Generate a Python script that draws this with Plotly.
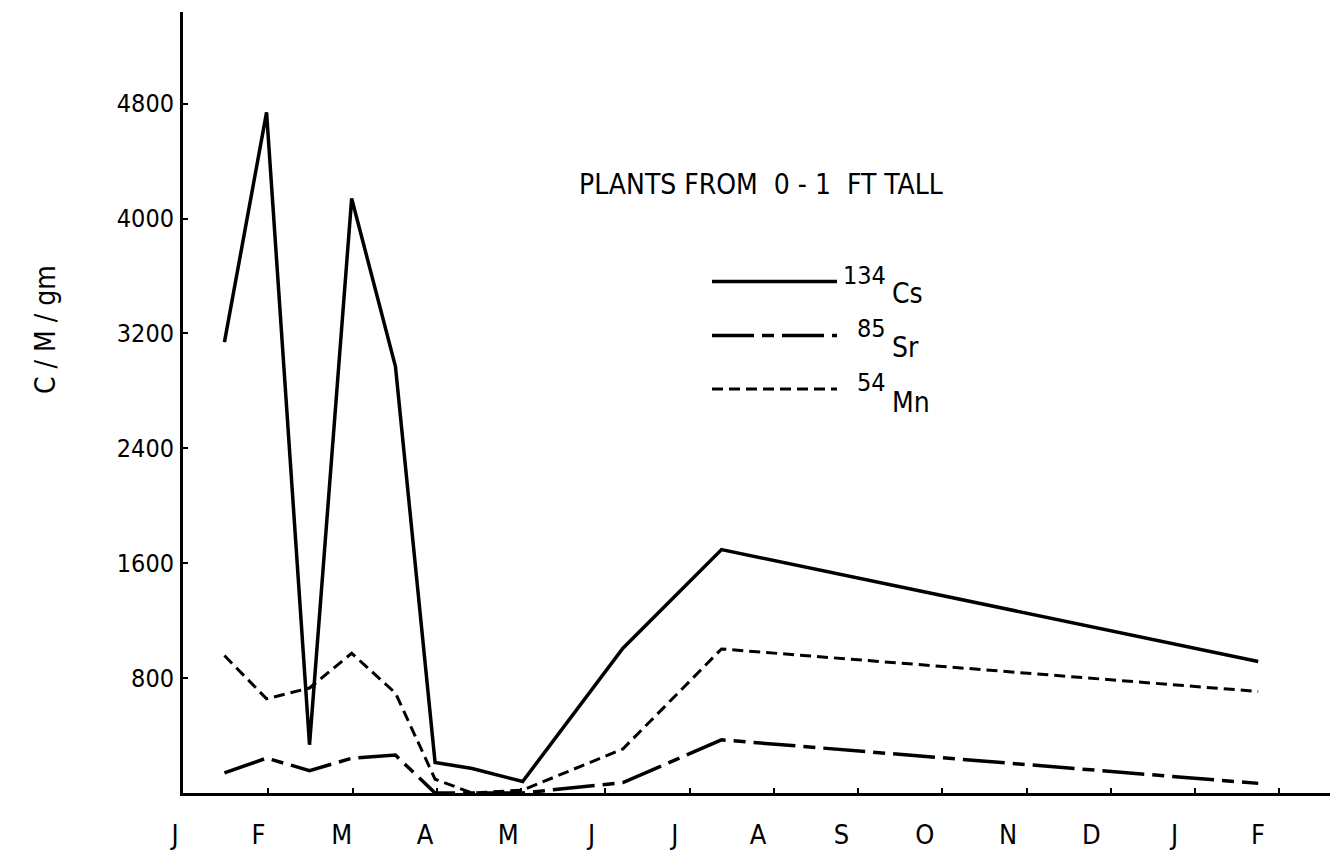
import plotly.graph_objects as go

# Sampling dates, in months from the start of January (0 = J, 1 = F, ...)
sample_month = [0.48, 0.98, 1.49, 1.99, 2.51, 2.98, 3.42, 4.02, 5.21, 6.38, 12.75]

# Activity, C/M/gm
cs134 = [3140, 4740, 336, 4140, 2970, 213, 171, 80, 1008, 1695, 916]
sr85 = [140, 243, 156, 242, 264, 0, 0, 0, 73, 370, 67]
mn54 = [957, 656, 731, 973, 696, 96, 0, 20, 307, 1003, 707]

month_labels = ["J", "F", "M", "A", "M", "J", "J", "A", "S", "O", "N", "D", "J", "F"]
y_ticks = [800, 1600, 2400, 3200, 4000, 4800]

FONT = "DejaVu Sans Condensed, DejaVu Sans, sans-serif"
W, H = 1339, 866
L, R, T, B = 183, 1330, 12, 793  # plot box in pixels

CS_LINE = dict(color="black", width=3.5)
SR_LINE = dict(color="black", width=3.5, dash="42px,8px,12px,8px")
MN_LINE = dict(color="black", width=3, dash="11px,6px")


def fx(p):
    return (p - L) / (R - L)


def fy(p):
    return (B - p) / (B - T)


fig = go.Figure()
for vals, line, name in [(cs134, CS_LINE, "134Cs"), (sr85, SR_LINE, "85Sr"), (mn54, MN_LINE, "54Mn")]:
    fig.add_trace(go.Scatter(x=sample_month, y=vals, mode="lines", line=line,
                             name=name, showlegend=False, hoverinfo="skip"))

# carrier for the month-label axis
fig.add_trace(go.Scatter(x=[0, 13], y=[None, None], xaxis="x2", mode="lines",
                         showlegend=False, hoverinfo="skip"))

px_per_month = 84.25
x0 = (L - 184) / px_per_month
label_px = 83.3

fig.update_layout(
    width=W, height=H,
    margin=dict(l=L, r=W - R, t=T, b=H - B, pad=0),
    paper_bgcolor="white", plot_bgcolor="white",
    font=dict(family=FONT, color="black", size=28),
    xaxis=dict(range=[x0, x0 + (R - L) / px_per_month], showgrid=False, zeroline=False,
               showline=True, linecolor="black", linewidth=3,
               tickvals=list(range(1, 14)), ticks="inside", ticklen=5, tickwidth=2,
               tickcolor="black", showticklabels=False),
    xaxis2=dict(overlaying="x", anchor="y", side="bottom",
                range=[-0.001, (R - L) / label_px - 0.001],
                showgrid=False, zeroline=False, showline=False, ticks="",
                tickvals=list(range(len(month_labels))), ticktext=month_labels,
                ticklabelshift=-8, ticklabelstandoff=23,
                tickfont=dict(family=FONT, size=27, color="black")),
    yaxis=dict(range=[0, (B - T) / 0.1436], showgrid=False, zeroline=False,
               showline=True, linecolor="black", linewidth=3,
               tickvals=y_ticks, ticktext=[str(v) for v in y_ticks],
               ticks="inside", ticklen=5, tickwidth=2, tickcolor="black",
               ticklabelstandoff=1,
               tickfont=dict(family=FONT, size=25, color="black")),
)

# key
key_rows = [(281.5, CS_LINE, "134", "Cs", 275, 293),
            (335.5, SR_LINE, "85", "Sr", 328, 347),
            (389, MN_LINE, "54", "Mn", 382, 402)]
for ly, line, mass, sym, my, sy in key_rows:
    fig.add_shape(type="line", xref="paper", yref="paper",
                  x0=fx(712), x1=fx(837), y0=fy(ly), y1=fy(ly), line=line)
    fig.add_annotation(xref="paper", yref="paper", x=fx(887), y=fy(my), text=mass,
                       showarrow=False, xanchor="right", yanchor="middle", borderpad=0,
                       font=dict(family=FONT, size=25))
    fig.add_annotation(xref="paper", yref="paper", x=fx(891), y=fy(sy), text=sym,
                       showarrow=False, xanchor="left", yanchor="middle", borderpad=0,
                       font=dict(family=FONT, size=28))

fig.add_annotation(xref="paper", yref="paper", x=fx(761), y=fy(185),
                   text="PLANTS FROM\u00a0\u00a00 - 1\u00a0\u00a0FT TALL",
                   showarrow=False, xanchor="center", yanchor="middle",
                   font=dict(family=FONT, size=28))

fig.add_annotation(xref="paper", yref="paper", x=fx(45), y=fy(330),
                   text="C / M / gm", textangle=-90, showarrow=False,
                   xanchor="center", yanchor="middle",
                   font=dict(family=FONT, size=28))

fig.write_html("out.html")
